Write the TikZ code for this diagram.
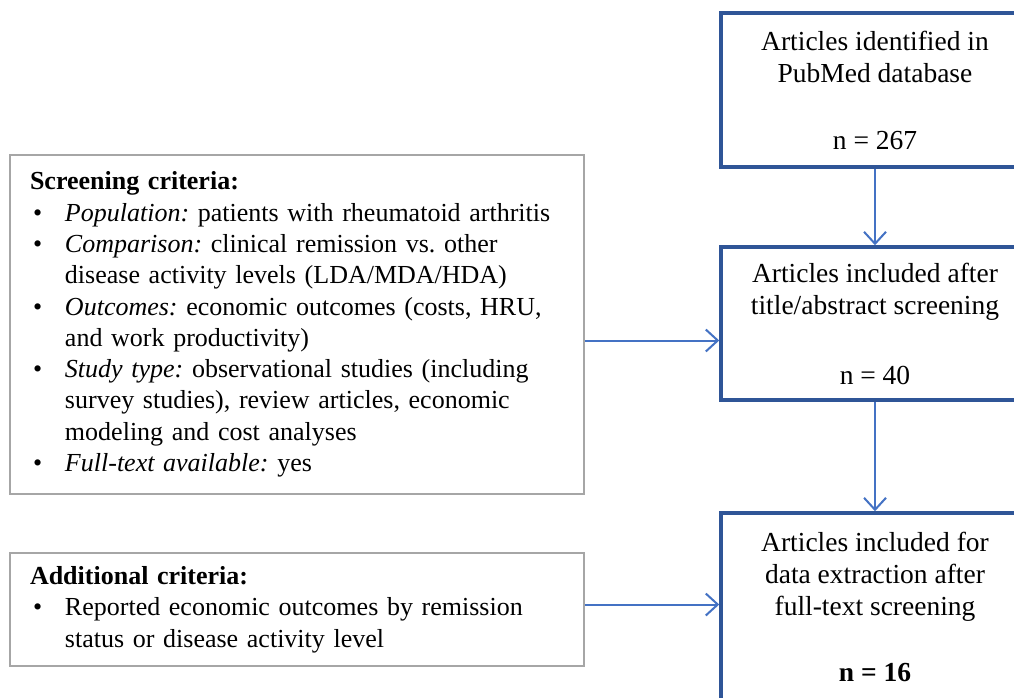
\documentclass[tikz,border=0pt]{standalone}
\usepackage{fontspec}
\setmainfont{Liberation Serif}
\usetikzlibrary{arrows.meta,calc}
\definecolor{boxblue}{HTML}{2F5597}
\definecolor{arrblue}{HTML}{4472C4}
\definecolor{boxgray}{HTML}{A6A6A6}
\newcommand{\bitem}[1]{\par\noindent\hangindent=35pt\hangafter=1\makebox[35pt][l]{\hspace{3pt}\textbullet}#1\par}
\begin{document}
\begin{tikzpicture}[x=1pt,y=1pt,
 flowbox/.style={draw=boxblue,line width=3.5pt,align=center,font=\fontsize{27.5}{32}\selectfont,minimum width=308pt,inner sep=0pt},
 critbox/.style={draw=boxgray,line width=1.5pt,inner xsep=20pt,inner ysep=0pt,text width=534pt,font=\fontsize{26}{31.3}\selectfont},
 arr/.style={draw=arrblue,line width=2pt,-{Straight Barb[length=12pt,width=22pt,line width=2pt]}}]
\useasboundingbox (0,0) rectangle (1014,-697);
\fill[white] (0,0) rectangle (1014,-697);
\clip (0,0) rectangle (1014,-697);
\node[flowbox,minimum height=154pt] (b1) at (875,-90) {Articles identified in\\PubMed database\\[35pt]n = 267};
\node[flowbox,minimum height=153pt] (b2) at (875,-323.5) {Articles included after\\title/abstract screening\\[38pt]n = 40};
\node[flowbox,minimum height=187pt] (b3) at (875,-606.5) {Articles included for\\data extraction after\\full-text screening\\[34pt]\textbf{n = 16}};
\node[critbox,minimum height=339pt] (scr) at (297,-324.5) {\raggedright\frenchspacing\noindent\textbf{Screening criteria:}
\bitem{\textit{Population:} patients with rheumatoid arthritis}
\bitem{\textit{Comparison:} clinical remission vs. other\newline disease activity levels (LDA/MDA/HDA)}
\bitem{\textit{Outcomes:} economic outcomes (costs, HRU,\newline and work productivity)}
\bitem{\textit{Study type:} observational studies (including\newline survey studies), review articles, economic\newline modeling and cost analyses}
\bitem{\textit{Full-text available:} yes}};
\node[critbox,minimum height=113pt] (add) at (297,-609.5) {\raggedright\frenchspacing\noindent\textbf{Additional criteria:}
\bitem{Reported economic outcomes by remission\newline status or disease activity level}};
\draw[arr] (b1.south) -- (b2.north);
\draw[arr] (b2.south) -- (b3.north);
\draw[arr] ($(scr.east)+(0,-16)$) -- ($(scr.east -| b2.west)+(0,-16)$);
\draw[arr] ($(add.east)+(0,5)$) -- ($(add.east -| b3.west)+(0,5)$);
\end{tikzpicture}
\end{document}
